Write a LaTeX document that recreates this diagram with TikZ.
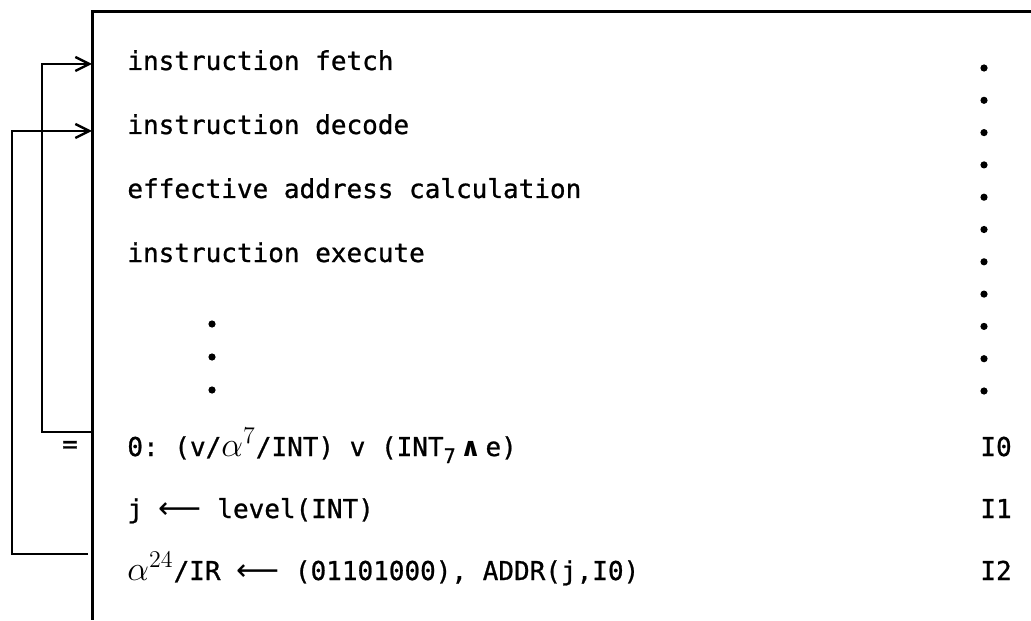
\documentclass[tikz,border=0pt]{standalone}
\usepackage{fontspec}
\setmonofont[FakeBold=0.9]{DejaVu Sans Mono}
\newfontfamily\symfont{DejaVu Sans}
\usetikzlibrary{arrows.meta, positioning}

\newcommand{\lgets}{{\symfont\fontsize{15}{15}\selectfont ⟵}}
\newcommand{\alf}[1]{{\fontsize{17}{17}\selectfont$\alpha^{#1}$}}
\newcommand{\lowsev}{\raisebox{-3.5pt}{\fontsize{10}{10}\selectfont 7}}

\begin{document}
\begin{tikzpicture}[
    x=0.5pt, y=-0.5pt,
    every node/.style={font=\ttfamily\fontsize{13}{15}\selectfont},
    txt/.style={anchor=base west, inner sep=0pt},
    wire/.style={line width=1.2pt},
    bar/.style={line width=1.5pt},
    arrow/.style={wire, -{Straight Barb[length=7pt, width=7pt]}},
    dot/.style={circle, fill, inner sep=0pt, minimum size=3.6pt},
]
\useasboundingbox (0,0) rectangle (1031,620);

% frame of the listing
\coordinate (barTop) at (92,12);
\coordinate (barBot) at (92,620);
\coordinate (topEnd) at (1031,12);
\draw[bar] (topEnd) -- (barTop) -- (barBot);

% cycle steps
\node[txt] (fetch)   at (127,70)  {instruction fetch};
\node[txt] (decode)  at (127,134) {instruction decode};
\node[txt] (effaddr) at (127,198) {effective address calculation};
\node[txt] (execute) at (127,262) {instruction execute};

\node[dot] (vdot1) at (212,324) {};
\node[dot] (vdot2) at (212,357) {};
\node[dot] (vdot3) at (212,390) {};

% interrupt micro-steps
\node[txt] (rule0) at (127,456) {0: (v/\alf{7}/INT) v (INT\lowsev\,{\symfont\bfseries ∧}\,e)};
\node[txt] (rule1) at (127,518) {j \lgets\ level(INT)};
\node[txt] (rule2) at (127,580) {\alf{24}/IR \lgets\ (01101000), ADDR(j,I0)};

\node[txt] (lab0) at (980,456) {I0};
\node[txt] (lab1) at (980,518) {I1};
\node[txt] (lab2) at (980,580) {I2};

% right column of dots
\foreach \k in {0,...,10}
    \node[dot] (rdot\k) at (984,68+32.3*\k) {};

\node (eqmark) at (70,447) {=};

% feedback loops
\coordinate (fetchIn)  at (92,64);
\coordinate (decodeIn) at (92,131);
\coordinate (loopA)    at (92,432);
\coordinate (cornerA)  at (42,432);
\coordinate (loopB)    at (88,554);
\coordinate (cornerB)  at (12,554);
\draw[arrow] (loopA) -- (cornerA) |- (fetchIn);
\draw[arrow] (loopB) -- (cornerB) |- (decodeIn);
\end{tikzpicture}
\end{document}
